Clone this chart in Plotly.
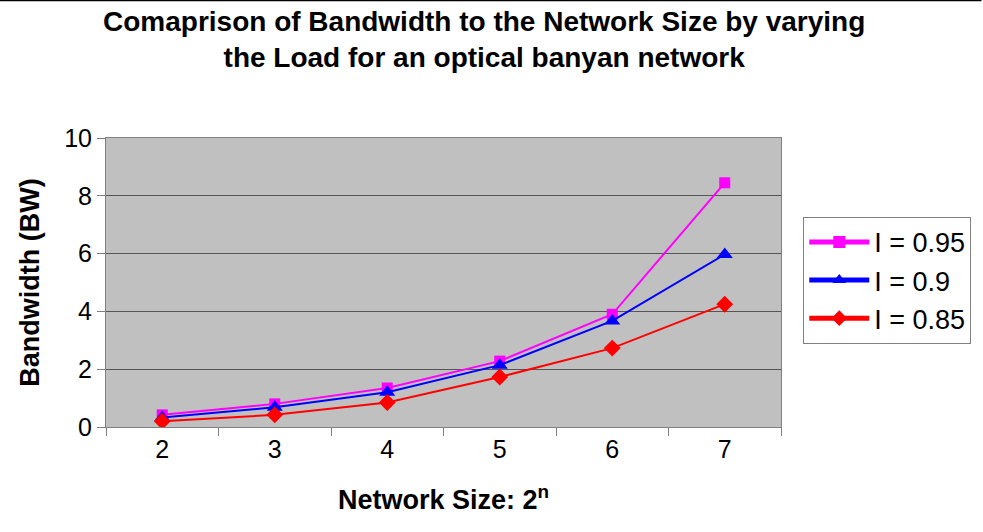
import plotly.graph_objects as go

# Network size exponents n (network size = 2^n)
network_sizes = ["2", "3", "4", "5", "6", "7"]

# Bandwidth at each load level
bw_load_095 = [0.42, 0.80, 1.35, 2.28, 3.90, 8.45]
bw_load_090 = [0.33, 0.68, 1.20, 2.14, 3.67, 5.97]
bw_load_085 = [0.20, 0.42, 0.85, 1.73, 2.73, 4.25]

load_labels = ["I = 0.95", "I = 0.9", "I = 0.85"]

series = [
    (load_labels[0], bw_load_095, "#ff00ff", "square", 11),
    (load_labels[1], bw_load_090, "#0000ff", "triangle-up", 14),
    (load_labels[2], bw_load_085, "#ff0000", "diamond", 13),
]

fig = go.Figure()
for name, vals, color, symbol, size in series:
    fig.add_trace(go.Scatter(
        x=network_sizes, y=vals, name=name,
        mode="lines+markers",
        line=dict(color=color, width=2),
        marker=dict(color=color, symbol=symbol, size=size),
    ))

font_family = "Liberation Sans, Arial, sans-serif"

fig.update_layout(
    width=983, height=532,
    margin=dict(l=106, r=202, t=138, b=105),
    paper_bgcolor="white",
    plot_bgcolor="#c0c0c0",
    font=dict(family=font_family, color="black", size=25),
    showlegend=True,
    legend=dict(
        x=1.033, xanchor="left", y=0.727, yanchor="top",
        bgcolor="white", bordercolor="#808080", borderwidth=1,
        font=dict(size=27),
        tracegroupgap=0, itemsizing="constant", itemwidth=60,
    ),
    xaxis=dict(
        type="category", range=[-0.5, 5.5],
        title=dict(text="<b>Network Size: 2<sup>n</sup></b>", font=dict(size=27), standoff=28),
        tickson="boundaries", ticks="outside", ticklen=8, tickcolor="#808080",
        showline=True, linecolor="#808080", linewidth=1, mirror=True,
        showgrid=False, tickfont=dict(size=25),
    ),
    yaxis=dict(
        range=[0, 10], dtick=2,
        title=dict(text="<b>Bandwidth (BW)</b>", font=dict(size=27), standoff=16),
        ticks="outside", ticklen=8, tickcolor="#808080",
        showline=True, linecolor="#808080", linewidth=1, mirror=True,
        showgrid=True, gridcolor="#555555", gridwidth=1,
        zeroline=False, tickfont=dict(size=25),
    ),
    annotations=[dict(
        text="<b>Comaprison of Bandwidth to the Network Size by varying<br>the Load for an optical banyan network</b>",
        xref="paper", yref="paper", x=0.56, y=1.462,
        xanchor="center", yanchor="top", showarrow=False,
        font=dict(size=28, family=font_family), align="center",
    )],
    shapes=[dict(type="line", xref="paper", yref="paper",
                 x0=-0.157, x1=1.297, y0=1.477, y1=1.477,
                 line=dict(color="black", width=2))],
)

fig.write_html("out.html")
